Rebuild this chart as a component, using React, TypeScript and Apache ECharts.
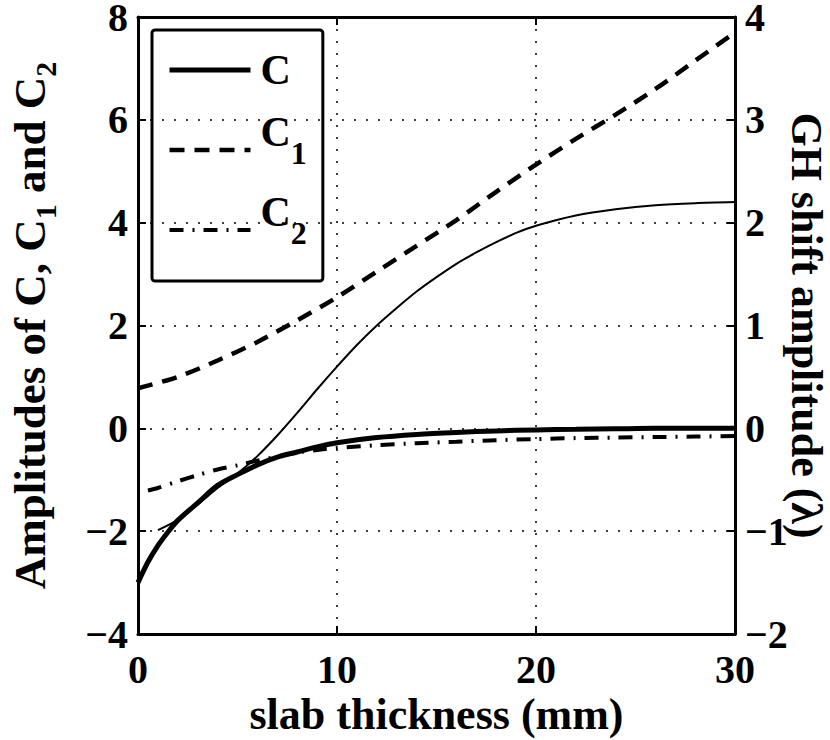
import React, { useEffect, useRef } from "react";
import * as echarts from "echarts";

// ---- data ----
const xTicks = [0, 10, 20, 30];
const leftTicks = [-4, -2, 0, 2, 4, 6, 8];
const rightTicks = [-2, -1, 0, 1, 2, 3, 4];

const xC = [0, 0.5, 1, 1.5, 2, 3, 4, 5, 6, 7, 8, 9, 10, 12, 14, 16, 18, 20, 22, 24, 26, 28, 30];
const valC = [-3.0, -2.6, -2.28, -2.02, -1.79, -1.45, -1.11, -0.9, -0.71, -0.56, -0.46, -0.36, -0.28, -0.18, -0.12, -0.08, -0.05, -0.03, -0.02, -0.01, 0, 0, 0];

const xC1 = [0, 2, 4, 6, 8, 10, 12, 14, 16, 18, 20, 22, 24, 26, 28, 30];
const valC1 = [0.78, 1.0, 1.32, 1.68, 2.1, 2.55, 3.05, 3.55, 4.05, 4.6, 5.13, 5.63, 6.1, 6.6, 7.15, 7.7];

const xC2 = [0.5, 1, 2, 3, 4, 5, 6, 7, 8, 9, 10, 12, 14, 16, 18, 20, 22, 24, 26, 28, 30];
const valC2 = [-1.21, -1.16, -1.03, -0.91, -0.8, -0.72, -0.63, -0.55, -0.47, -0.42, -0.38, -0.33, -0.29, -0.26, -0.23, -0.21, -0.19, -0.18, -0.17, -0.16, -0.15];

const xGH = [1, 2, 3, 4, 5, 6, 7, 8, 9, 10, 11, 12, 13, 14, 15, 16, 17, 18, 19, 20, 22, 24, 26, 28, 30];
const valGH = [-0.99, -0.89, -0.74, -0.58, -0.44, -0.27, -0.07, 0.15, 0.38, 0.6, 0.81, 1.0, 1.17, 1.33, 1.47, 1.6, 1.71, 1.81, 1.9, 1.97, 2.07, 2.13, 2.17, 2.19, 2.2];

const legendNames = ["C", "C1", "C2"];

const FONT = "Liberation Serif, Times New Roman, serif";
const zip = (xs: number[], ys: number[]) => xs.map((x, i) => [x, ys[i]]);
const fmt = (v: number) => (v < 0 ? "\u2212" + Math.abs(v) : String(v));

export default function App() {
  const ref = useRef<HTMLDivElement>(null);
  useEffect(() => {
    const chart = echarts.init(ref.current!, null, { renderer: "svg" });
    const labelStyle = { color: "#000", fontFamily: FONT, fontWeight: "bold" as const, fontSize: 40 };
    const titleStyle = { color: "#000", fontFamily: FONT, fontWeight: "bold" as const, fontSize: 44 };
    const gridLine = { show: true, lineStyle: { color: "#000", width: 1.5, type: [2, 10] } };
    const axisLine = { show: true, onZero: false, lineStyle: { color: "#000", width: 3 } };
    const tick = { show: true, inside: true, length: 8, lineStyle: { color: "#000", width: 2 } };
    const base = { fontFamily: FONT, fontWeight: "bold", color: "#000" };
    const rich = {
      t: { ...base, fontSize: 45, lineHeight: 53, verticalAlign: "top" },
      s: { ...base, fontSize: 30, lineHeight: 30, verticalAlign: "bottom" },
      c0: { ...base, fontSize: 42, lineHeight: 42, padding: [0, 0, 0, 5] },
      c: { ...base, fontSize: 42, lineHeight: 78, verticalAlign: "top", padding: [0, 0, 0, 5] },
      ls: { ...base, fontSize: 32, lineHeight: 32, verticalAlign: "top", padding: [26, 0, 0, 0] },
    };
    const option: any = {
      animation: false,
      backgroundColor: "#fff",
      color: ["#000"],
      grid: { left: 138, right: 95, top: 17, bottom: 106, containLabel: false, outerBoundsMode: "none" },
      legend: {
        left: 152,
        top: 30,
        orient: "vertical",
        padding: [0, 16, 11, 15],
        borderColor: "#000",
        borderWidth: 3,
        borderRadius: 3,
        itemWidth: 81,
        itemHeight: 100,
        itemGap: 0,
        selectedMode: false,
        itemStyle: { opacity: 0 },
        data: [
          { name: "C", lineStyle: { width: 5 } },
          { name: "C1", lineStyle: { width: 4.5 } },
          { name: "C2", lineStyle: { width: 4 } },
        ],
        formatter: (name: string) =>
          name === "C" ? "{c0|C}" : `{c|C}{ls|${name.slice(1)}}`,
        textStyle: { rich },
      },
      xAxis: [
        {
          type: "value",
          min: xTicks[0],
          max: xTicks[xTicks.length - 1],
          interval: 10,
          position: "bottom",
          name: "slab thickness (mm)",
          nameLocation: "middle",
          nameGap: 62,
          nameMoveOverlap: false,
          nameTextStyle: { ...titleStyle, lineHeight: 36 },
          axisLine,
          axisTick: tick,
          axisLabel: { ...labelStyle, lineHeight: 30, margin: 20, formatter: fmt },
          splitLine: gridLine,
        },
        {
          type: "value",
          min: xTicks[0],
          max: xTicks[xTicks.length - 1],
          interval: 10,
          position: "top",
          axisLine,
          axisTick: tick,
          axisLabel: { show: false },
          splitLine: { show: false },
        },
      ],
      yAxis: [
        {
          type: "value",
          min: leftTicks[0],
          max: leftTicks[leftTicks.length - 1],
          interval: 2,
          position: "left",
          name: "{t|Amplitudes of C, C}{s|1}{t| and C}{s|2}",
          nameLocation: "middle",
          nameRotate: 90,
          nameGap: 78,
          nameMoveOverlap: false,
          nameTextStyle: { rich },
          axisLine,
          axisTick: tick,
          axisLabel: { ...labelStyle, lineHeight: 28, margin: 10, formatter: fmt },
          splitLine: gridLine,
        },
        {
          type: "value",
          min: rightTicks[0],
          max: rightTicks[rightTicks.length - 1],
          interval: 1,
          position: "right",
          name: "GH shift amplitude (\u03bb)",
          nameLocation: "middle",
          nameRotate: -90,
          nameGap: 51,
          nameMoveOverlap: false,
          nameTextStyle: { ...titleStyle, lineHeight: 40 },
          axisLine,
          axisTick: tick,
          axisLabel: { ...labelStyle, lineHeight: 28, margin: 10, formatter: fmt },
          splitLine: { show: false },
        },
      ],
      series: [
        {
          name: "GH",
          type: "line",
          yAxisIndex: 1,
          data: zip(xGH, valGH),
          symbol: "none",
          smooth: 0.25,
          itemStyle: { color: "#000" },
          lineStyle: { color: "#000", width: 2 },
          z: 2,
        },
        {
          name: legendNames[1],
          type: "line",
          data: zip(xC1, valC1),
          symbol: "none",
          smooth: 0.3,
          itemStyle: { color: "#000" },
          lineStyle: { color: "#000", width: 4.5, type: [15, 10] },
          z: 3,
        },
        {
          name: legendNames[2],
          type: "line",
          data: zip(xC2, valC2),
          symbol: "none",
          smooth: 0.3,
          itemStyle: { color: "#000" },
          lineStyle: { color: "#000", width: 4, type: [14, 9, 2, 9] },
          z: 3,
        },
        {
          name: legendNames[0],
          type: "line",
          data: zip(xC, valC),
          symbol: "none",
          smooth: 0.3,
          itemStyle: { color: "#000" },
          lineStyle: { color: "#000", width: 5 },
          z: 4,
        },
      ],
    };
    chart.setOption(option);
    return () => chart.dispose();
  }, []);
  return (
    <div
      ref={ref}
      style={{ position: "absolute", left: 0, top: 0, width: 830, height: 740 }}
    />
  );
}
